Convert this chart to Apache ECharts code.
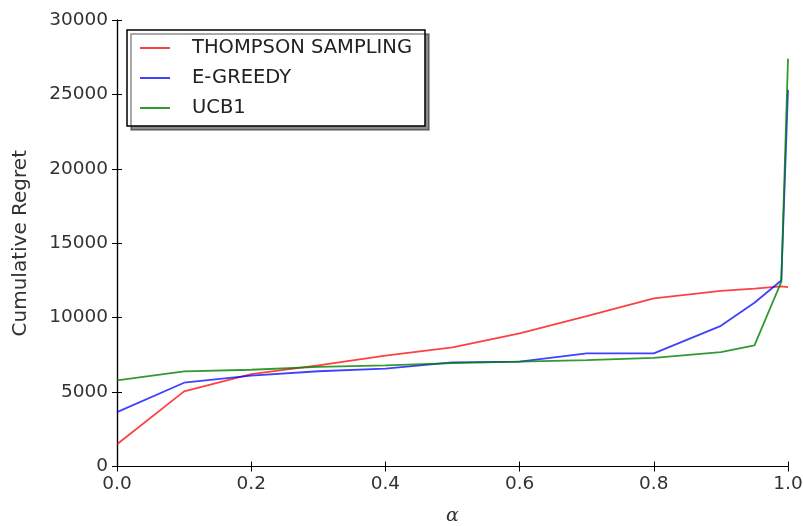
<!DOCTYPE html>
<html><head><meta charset="utf-8">
<script src="https://cdn.jsdelivr.net/npm/echarts@6/dist/echarts.min.js"></script>
<style>html,body{margin:0;padding:0;background:#fff}#c{width:803px;height:526px}</style>
</head><body><div id="c"></div>
<script>
const alphas = [0.0, 0.1, 0.2, 0.3, 0.4, 0.5, 0.6, 0.7, 0.8, 0.9, 0.95, 0.99, 1.0];
const thompson = [1500, 5050, 6200, 6800, 7450, 8000, 8950, 10100, 11300, 11800, 11950, 12100, 12050];
const egreedy = [3650, 5630, 6100, 6400, 6570, 7000, 7050, 7600, 7600, 9450, 11000, 12500, 25300];
const ucb1 = [5790, 6390, 6500, 6700, 6800, 6950, 7050, 7150, 7300, 7680, 8140, 12400, 27400];
const seriesNames = ['THOMPSON SAMPLING', 'E-GREEDY', 'UCB1'];
const xTicks = [0.0, 0.2, 0.4, 0.6, 0.8, 1.0];
const yTicks = [0, 5000, 10000, 15000, 20000, 25000, 30000];

const colors = ['rgba(255,0,0,0.75)', 'rgba(0,0,255,0.75)', 'rgba(0,128,0,0.8)'];
const seriesData = [thompson, egreedy, ucb1];
const chart = echarts.init(document.getElementById('c'));
const font = 'DejaVu Sans';
const tickStyle = {inside: true, length: 5, lineStyle: {color: '#000', width: 1}};
chart.setOption({
  animation: false,
  grid: {left: 117, right: 15, top: 20, bottom: 59.5, outerBoundsMode: 'none', containLabel: false},
  legend: {
    left: 127, top: 30, orient: 'vertical',
    data: seriesNames,
    icon: 'rect', itemWidth: 30, itemHeight: 2, itemGap: 10,
    padding: [8, 13, 8, 13],
    backgroundColor: '#fff', borderColor: '#000', borderWidth: 1.5, borderRadius: 0,
    shadowColor: 'rgba(0,0,0,0.45)', shadowOffsetX: 4, shadowOffsetY: 4, shadowBlur: 0,
    textStyle: {fontFamily: font, fontSize: 19.5, color: '#222', padding: [0, 0, 0, 17], lineHeight: 20}
  },
  xAxis: [{
    type: 'value', min: 0, max: 1, interval: 0.2,
    name: 'α', nameLocation: 'middle', nameGap: 40,
    nameTextStyle: {fontFamily: 'DejaVu Serif', fontStyle: 'italic', fontSize: 19, color: '#333'},
    axisLine: {show: true, lineStyle: {color: '#000', width: 1.2}},
    axisTick: tickStyle,
    splitLine: {show: false},
    axisLabel: {fontFamily: font, fontSize: 18.5, color: '#333', margin: 8,
      formatter: v => xTicks.includes(Math.round(v * 10) / 10) ? v.toFixed(1) : ''}
  }, {
    type: 'value', min: 0, max: 1, interval: 0.2, position: 'top',
    axisLine: {show: true, lineStyle: {color: '#000', width: 1.2}},
    axisTick: tickStyle, axisLabel: {show: false}, splitLine: {show: false}
  }],
  yAxis: [{
    type: 'value', min: 0, max: 30000, interval: 5000,
    name: 'Cumulative Regret', nameLocation: 'middle', nameGap: 86, nameRotate: 90,
    nameTextStyle: {fontFamily: font, fontSize: 20, color: '#333'},
    axisLine: {show: true, lineStyle: {color: '#000', width: 1.2}},
    axisTick: tickStyle, splitLine: {show: false},
    axisLabel: {fontFamily: font, fontSize: 18.5, color: '#333', margin: 9,
      formatter: v => yTicks.includes(v) ? String(v) : ''}
  }, {
    type: 'value', min: 0, max: 30000, interval: 5000, position: 'right',
    axisLine: {show: true, lineStyle: {color: '#000', width: 1.2}},
    axisTick: tickStyle, axisLabel: {show: false}, splitLine: {show: false}
  }],
  series: seriesNames.map((n, i) => ({
    name: n, type: 'line', symbol: 'none', xAxisIndex: 0, yAxisIndex: 0,
    data: alphas.map((a, j) => [a, seriesData[i][j]]),
    lineStyle: {color: colors[i], width: 1.8},
    itemStyle: {color: colors[i]}
  }))
});
</script></body></html>
